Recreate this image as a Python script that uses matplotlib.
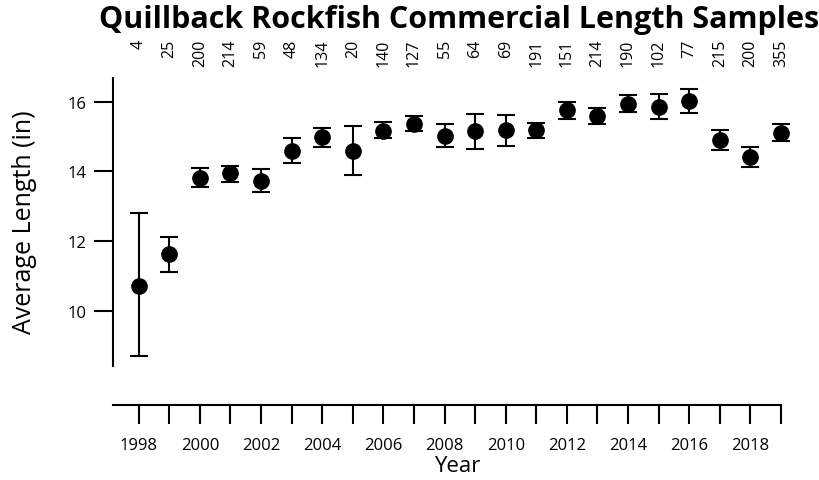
import matplotlib.pyplot as plt
import matplotlib.transforms as transforms
import numpy as np

# Data.
years = np.arange(1998, 2020)
avg_length = [10.72, 11.63, 13.81, 13.95, 13.73, 14.58, 14.98, 14.59, 15.17, 15.36, 15.02,
              15.17, 15.20, 15.19, 15.76, 15.60, 15.93, 15.84, 16.02, 14.91, 14.40, 15.10]
err_low = [8.70, 11.11, 13.56, 13.70, 13.40, 14.25, 14.69, 13.88, 14.95, 15.16, 14.69,
           14.63, 14.73, 14.95, 15.50, 15.35, 15.70, 15.50, 15.68, 14.60, 14.12, 14.88]
err_high = [12.80, 12.12, 14.09, 14.16, 14.07, 14.96, 15.25, 15.30, 15.43, 15.59, 15.35,
            15.64, 15.63, 15.38, 16.00, 15.83, 16.19, 16.22, 16.36, 15.19, 14.69, 15.35]
n_samples = [4, 25, 200, 214, 59, 48, 134, 20, 140, 127, 55,
             64, 69, 191, 151, 214, 190, 102, 77, 215, 200, 355]
y_ticks = [10, 12, 14, 16]
x_ticklabels = [str(y) if y % 2 == 0 else '' for y in years]

plt.rcParams['font.family'] = ['Open Sans', 'DejaVu Sans']

fig = plt.figure(figsize=(8.2, 4.81), dpi=100)
ax = fig.add_axes([0.1374, 0.237, 0.815, 0.5988])

avg = np.array(avg_length)
yerr = [avg - np.array(err_low), np.array(err_high) - avg]
ax.errorbar(years, avg, yerr=yerr, fmt='o', color='black', markersize=11,
            capsize=6.5, capthick=1.5, elinewidth=1.5, clip_on=False)

ax.set_xlim(1997.15, 2019)
ax.set_ylim(8.41, 16.68)

for side in ['top', 'right']:
    ax.spines[side].set_visible(False)
ax.spines['left'].set_linewidth(1.5)
ax.spines['bottom'].set_linewidth(1.5)
ax.spines['bottom'].set_position(('outward', 28))

ax.set_xticks(years)
ax.set_xticklabels(x_ticklabels)
ax.set_yticks(y_ticks)
ax.tick_params(axis='x', direction='out', length=14, width=1.5, pad=9, labelsize=12)
ax.tick_params(axis='y', direction='out', length=14, width=1.5, pad=5, labelsize=12)

# Sample counts along the top
trans = transforms.blended_transform_factory(ax.transData, fig.transFigure)
for yr, n in zip(years, n_samples):
    ax.text(yr, 1 - 40 / 481, str(n), transform=trans, rotation=90,
            ha='center', va='top', fontsize=11.5)

fig.text(459.5 / 820, 1 - 20 / 481, 'Quillback Rockfish Commercial Length Samples',
         ha='center', va='center', fontsize=22, fontweight='bold')
fig.text(25 / 820, 1 - 222 / 481, 'Average Length (in)', rotation=90,
         ha='center', va='center', fontsize=18)
fig.text(457 / 820, 1 - 466 / 481, 'Year', ha='center', va='center', fontsize=16)

fig.savefig('out.png', dpi=100)
